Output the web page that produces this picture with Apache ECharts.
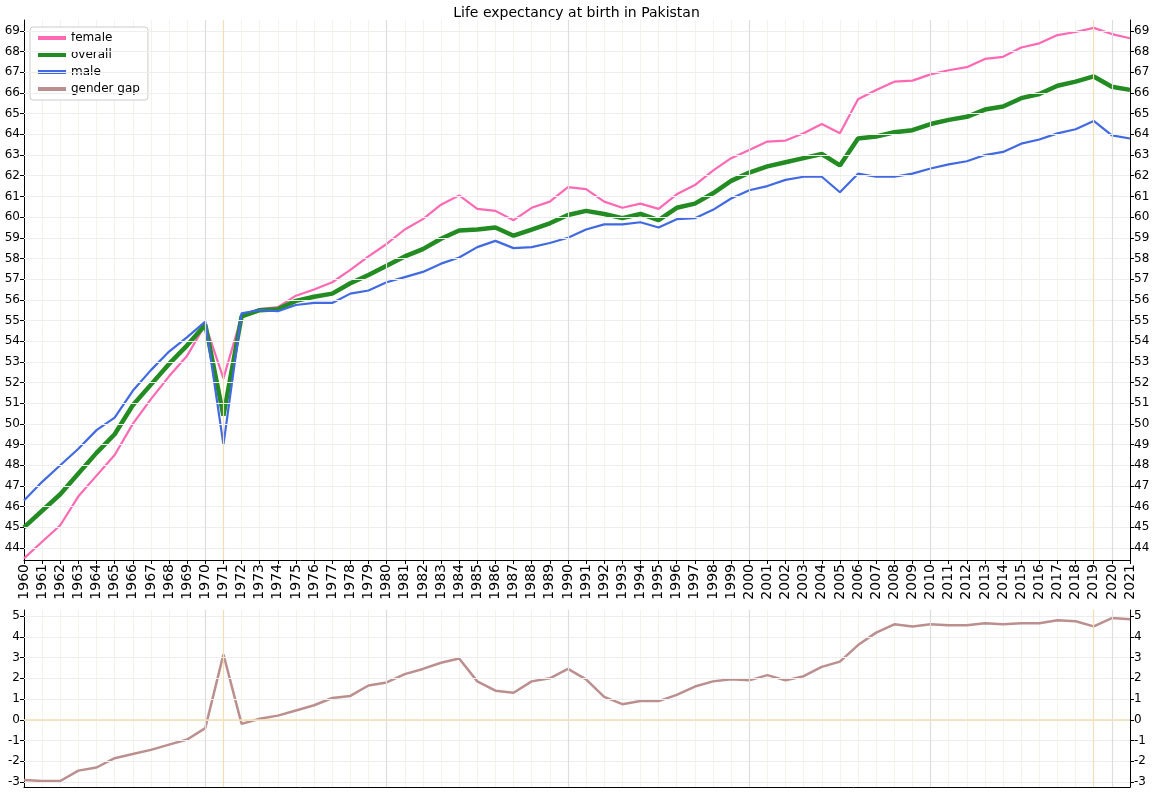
<!DOCTYPE html>
<html><head><meta charset="utf-8">
<script src="https://cdn.jsdelivr.net/npm/echarts@6/dist/echarts.min.js"></script>
<style>html,body{margin:0;background:#fff}#c{width:1153px;height:793px}</style>
</head><body><div id="c"></div>
<script>
const years=[];for(let y=1960;y<=2021;y++)years.push(String(y));
const female=[43.5,44.3,45.1,46.5,47.5,48.5,50.0,51.2,52.3,53.3,54.8,52.2,55.2,55.55,55.65,56.2,56.5,56.85,57.45,58.1,58.7,59.4,59.9,60.6,61.05,60.4,60.3,59.85,60.45,60.75,61.45,61.35,60.75,60.45,60.65,60.4,61.1,61.55,62.25,62.85,63.25,63.65,63.7,64.05,64.5,64.05,65.7,66.15,66.55,66.6,66.9,67.1,67.25,67.65,67.75,68.2,68.4,68.8,68.95,69.15,68.85,68.65];
const overall=[45.0,45.8,46.6,47.6,48.6,49.5,50.9,51.9,52.9,53.8,54.8,50.4,55.2,55.5,55.55,55.95,56.15,56.3,56.8,57.2,57.65,58.1,58.45,58.95,59.35,59.4,59.5,59.1,59.4,59.7,60.1,60.3,60.15,59.95,60.15,59.85,60.45,60.65,61.15,61.75,62.15,62.45,62.65,62.85,63.05,62.5,63.8,63.9,64.1,64.2,64.5,64.7,64.85,65.2,65.35,65.75,65.95,66.35,66.55,66.8,66.3,66.15];
const male=[46.3,47.2,48.0,48.8,49.7,50.3,51.6,52.6,53.5,54.2,54.95,49.0,55.35,55.5,55.45,55.75,55.85,55.85,56.3,56.45,56.85,57.1,57.35,57.75,58.05,58.55,58.85,58.5,58.55,58.75,59.0,59.4,59.65,59.65,59.75,59.5,59.9,59.95,60.35,60.9,61.3,61.5,61.8,61.95,61.95,61.2,62.1,61.95,61.95,62.1,62.35,62.55,62.7,63.0,63.15,63.55,63.75,64.05,64.25,64.65,63.95,63.8];
const gap=[-2.9,-2.95,-2.95,-2.45,-2.3,-1.85,-1.65,-1.45,-1.2,-0.95,-0.4,3.15,-0.2,0.05,0.2,0.45,0.7,1.05,1.15,1.65,1.8,2.2,2.45,2.75,2.95,1.85,1.4,1.3,1.85,2.0,2.45,1.95,1.1,0.75,0.9,0.9,1.2,1.6,1.85,1.95,1.9,2.15,1.9,2.1,2.55,2.8,3.6,4.2,4.6,4.5,4.6,4.55,4.55,4.65,4.6,4.65,4.65,4.8,4.75,4.5,4.9,4.85];
const topTicks=[];for(let v=44;v<=69;v++)topTicks.push(v);
const botTicks=[-3,-2,-1,0,1,2,3,4,5];
const decades=['1970','1980','1990','2000','2010','2020'];
const orangeYears=['1971','2019'];
const F='DejaVu Sans';
const ch=echarts.init(document.getElementById('c'));
function yAx(gi,min,max,ticks,pos){return {type:'value',gridIndex:gi,min,max,position:pos,
 axisLine:{show:true,lineStyle:{color:'#000'}},axisTick:{show:true,customValues:ticks,length:4,lineStyle:{color:'#000'}},
 axisLabel:{customValues:ticks,color:'#000',fontSize:12,fontFamily:F,margin:4},splitLine:{show:false}};}
function xAx(gi,labels){return {type:'category',gridIndex:gi,data:years,boundaryGap:false,
 axisLine:{onZero:false,lineStyle:{color:'#000'}},axisTick:{show:labels,interval:0,length:4,lineStyle:{color:'#000'}},
 axisLabel:{show:labels,interval:0,rotate:90,color:'#000',fontSize:14,fontFamily:F,margin:4},
 splitLine:{show:true,interval:0,lineStyle:{color:'#f3f3ee',width:1}}};}
function guides(xi,yi,hvals,zeroLine){
 const d=[];
 hvals.forEach(v=>d.push({yAxis:v,lineStyle:{color:'#eeeeee',width:1,type:'solid'}}));
 decades.forEach(v=>d.push({xAxis:v,lineStyle:{color:'#dddddd',width:1.2,type:'solid'}}));
 orangeYears.forEach(v=>d.push({xAxis:v,lineStyle:{color:'#f5deb3',width:1.2,type:'solid'}}));
 if(zeroLine)d.push({yAxis:0,lineStyle:{color:'#f5deb3',width:1.5,type:'solid'}});
 return {type:'line',xAxisIndex:xi,yAxisIndex:yi,data:[],silent:true,
  markLine:{symbol:'none',silent:true,label:{show:false},animation:false,data:d}};}
function ln(name,data,color,w,xi,yi){return {name,type:'line',data,xAxisIndex:xi,yAxisIndex:yi,showSymbol:false,symbol:'none',
 lineStyle:{color,width:w},itemStyle:{color},animation:false,z:3};}
ch.setOption({
 animation:false,
 title:{text:'Life expectancy at birth in Pakistan',left:'center',top:1,textStyle:{fontSize:14,fontWeight:'normal',fontFamily:F,color:'#000'}},
 legend:{orient:'vertical',left:30,top:27,itemGap:5,itemWidth:28,itemHeight:4,padding:[5,8],
  backgroundColor:'#fff',borderColor:'#ccc',borderWidth:1,borderRadius:3,
  textStyle:{fontSize:12,fontFamily:F,color:'#000'},
  data:['female','overall','male','gender gap'],icon:'rect'},
 grid:[{left:24,right:23,top:20,bottom:233},{left:24,right:23,top:610,bottom:6}],
 xAxis:[xAx(0,true),xAx(1,false)],
 yAxis:[yAx(0,43.42,69.53,topTicks,'left'),yAx(0,43.42,69.53,topTicks,'right'),
        yAx(1,-3.24,5.29,botTicks,'left'),yAx(1,-3.24,5.29,botTicks,'right')],
 series:[guides(0,0,topTicks,false),guides(1,2,botTicks,true),
  ln('female',female,'#ff69b4',2.2,0,0),
  ln('overall',overall,'#228b22',4.5,0,0),
  ln('male',male,'#4169e1',2.2,0,0),
  ln('gender gap',gap,'#bc8f8f',2.5,1,2)]
});
</script></body></html>
